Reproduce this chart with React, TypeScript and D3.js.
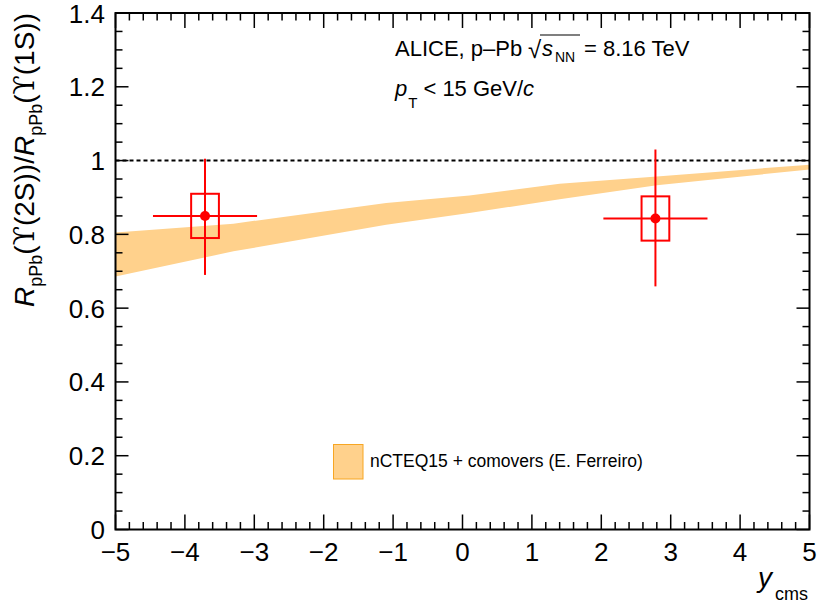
import React from "react";
import * as d3 from "d3";

const W = 817;
const H = 610;

// Data
const bandX = [-5, -3.3, -1.1, 0.1, 1.4, 2.8, 5];
const bandHigh = [0.805, 0.829, 0.885, 0.905, 0.937, 0.957, 0.989];
const bandLow = [0.686, 0.754, 0.826, 0.858, 0.895, 0.933, 0.976];

const pointX = [-3.71, 2.78];
const pointXHalf = [0.75, 0.75];
const pointY = [0.85, 0.843];
const statErrUp = [0.155, 0.187];
const statErrDown = [0.16, 0.184];
const systErr = [0.06, 0.06];
const systBoxHalfX = [0.2, 0.2];

const xTicks = [-5, -4, -3, -2, -1, 0, 1, 2, 3, 4, 5];
const yTicks = [0, 0.2, 0.4, 0.6, 0.8, 1, 1.2, 1.4];
const yTickLabels = ["0", "0.2", "0.4", "0.6", "0.8", "1", "1.2", "1.4"];

const FONT = "'Liberation Sans', Arial, 'DejaVu Sans', sans-serif";
const UPS_FONT = "'DejaVu Serif', 'DejaVu Sans', serif";
const BAND_FILL = "#ffd18c";
const BAND_STROKE = "#f7a623";
const RED = "#ff0000";

export default function App() {
  const L = 115.5, R = 809.5, T = 13, B = 529.5;
  const x = d3.scaleLinear().domain([-5, 5]).range([L, R]);
  const y = d3.scaleLinear().domain([0, 1.4]).range([B, T]);

  const bandData = bandX.map((v, i) => ({ x: v, lo: bandLow[i], hi: bandHigh[i] }));
  const area = d3
    .area<{ x: number; lo: number; hi: number }>()
    .x((d) => x(d.x))
    .y0((d) => y(d.lo))
    .y1((d) => y(d.hi));

  const xMinor = d3.range(-5, 5.0001, 0.2).filter((v) => Math.abs(v - Math.round(v)) > 1e-6);
  const yMinor = d3.range(0, 1.40001, 0.05).filter((v) => Math.abs(v / 0.2 - Math.round(v / 0.2)) > 1e-6);

  const xMaj = 15, xMin = 7.5, yMaj = 13, yMin = 7;

  return (
    <div style={{ position: "absolute", left: 0, top: 0 }}>
      <svg width={W} height={H} style={{ display: "block", background: "#fff" }} fontFamily={FONT}>
        {/* band */}
        <path d={area(bandData) || ""} fill={BAND_FILL} stroke="none" />

        {/* dashed line at 1 */}
        <line x1={x(-5)} x2={x(5)} y1={y(1)} y2={y(1)} stroke="#000" strokeWidth={2} strokeDasharray="4,3" />

        {/* data points */}
        {pointX.map((px, i) => (
          <g key={i}>
            <rect
              x={x(px - systBoxHalfX[i])}
              y={y(pointY[i] + systErr[i])}
              width={x(px + systBoxHalfX[i]) - x(px - systBoxHalfX[i])}
              height={y(pointY[i] - systErr[i]) - y(pointY[i] + systErr[i])}
              fill="none"
              stroke={RED}
              strokeWidth={2}
            />
            <line x1={x(px - pointXHalf[i])} x2={x(px + pointXHalf[i])} y1={y(pointY[i])} y2={y(pointY[i])} stroke={RED} strokeWidth={2} />
            <line x1={x(px)} x2={x(px)} y1={y(pointY[i] + statErrUp[i])} y2={y(pointY[i] - statErrDown[i])} stroke={RED} strokeWidth={2} />
            <circle cx={x(px)} cy={y(pointY[i])} r={5} fill={RED} />
          </g>
        ))}

        {/* ticks */}
        <g stroke="#000" strokeWidth={1.5}>
          {xTicks.map((t) => (
            <g key={"xt" + t}>
              <line x1={x(t)} x2={x(t)} y1={B} y2={B - xMaj} />
              <line x1={x(t)} x2={x(t)} y1={T} y2={T + xMaj} />
            </g>
          ))}
          {xMinor.map((t, i) => (
            <g key={"xm" + i}>
              <line x1={x(t)} x2={x(t)} y1={B} y2={B - xMin} />
              <line x1={x(t)} x2={x(t)} y1={T} y2={T + xMin} />
            </g>
          ))}
          {yTicks.map((t) => (
            <g key={"yt" + t}>
              <line x1={L} x2={L + yMaj} y1={y(t)} y2={y(t)} />
              <line x1={R} x2={R - yMaj} y1={y(t)} y2={y(t)} />
            </g>
          ))}
          {yMinor.map((t, i) => (
            <g key={"ym" + i}>
              <line x1={L} x2={L + yMin} y1={y(t)} y2={y(t)} />
              <line x1={R} x2={R - yMin} y1={y(t)} y2={y(t)} />
            </g>
          ))}
        </g>

        {/* frame */}
        <rect x={L} y={T} width={R - L} height={B - T} fill="none" stroke="#000" strokeWidth={2} />

        {/* tick labels */}
        {xTicks.map((t) => (
          <text key={"xl" + t} x={x(t)} y={561} fontSize={26} textAnchor="middle" fill="#000">
            {t < 0 ? "\u2212" + Math.abs(t) : String(t)}
          </text>
        ))}
        {yTicks.map((t, i) => (
          <text key={"yl" + t} x={105} y={y(t) + 9.5} fontSize={26} textAnchor="end" fill="#000">
            {yTickLabels[i]}
          </text>
        ))}

        {/* x title */}
        <text x={808} y={587} fontSize={28} textAnchor="end" fill="#000">
          <tspan fontStyle="italic">y</tspan>
          <tspan fontSize={18} dy={13} dx={3}>cms</tspan>
        </text>

        {/* y title */}
        <text transform="translate(34,13) rotate(-90)" fontSize={28} textAnchor="end" fill="#000">
          <tspan fontStyle="italic">R</tspan>
          <tspan fontSize={18} dy={8}>pPb</tspan>
          <tspan dy={-8}>(</tspan>
          <tspan fontFamily={UPS_FONT}>ϒ</tspan>
          <tspan>(2S))/</tspan>
          <tspan fontStyle="italic">R</tspan>
          <tspan fontSize={18} dy={8}>pPb</tspan>
          <tspan dy={-8}>(</tspan>
          <tspan fontFamily={UPS_FONT}>ϒ</tspan>
          <tspan>(1S))</tspan>
        </text>

        {/* annotation */}
        <text x={395} y={56} fontSize={22} fill="#000">ALICE, p–Pb</text>
        <text x={528} y={58} fontSize={24} fill="#000">√</text>
        <line x1={540} x2={580} y1={35} y2={35} stroke="#000" strokeWidth={1.2} />
        <text x={542} y={56} fontSize={22} fontStyle="italic" fill="#000">s</text>
        <text x={555} y={62} fontSize={14} fill="#000">NN</text>
        <text x={584} y={56} fontSize={22} fill="#000">= 8.16 TeV</text>

        <text x={395} y={96} fontSize={22} fill="#000">
          <tspan fontStyle="italic">p</tspan>
          <tspan fontSize={15} dy={12} dx={1}>T</tspan>
          <tspan dy={-12} dx={6}>&lt; 15 GeV/</tspan>
          <tspan fontStyle="italic">c</tspan>
        </text>

        {/* legend */}
        <rect x={333.5} y={444.5} width={29.5} height={34.5} fill={BAND_FILL} stroke={BAND_STROKE} strokeWidth={1} />
        <text x={370} y={467} fontSize={17.5} fill="#000">nCTEQ15 + comovers (E. Ferreiro)</text>
      </svg>
    </div>
  );
}
